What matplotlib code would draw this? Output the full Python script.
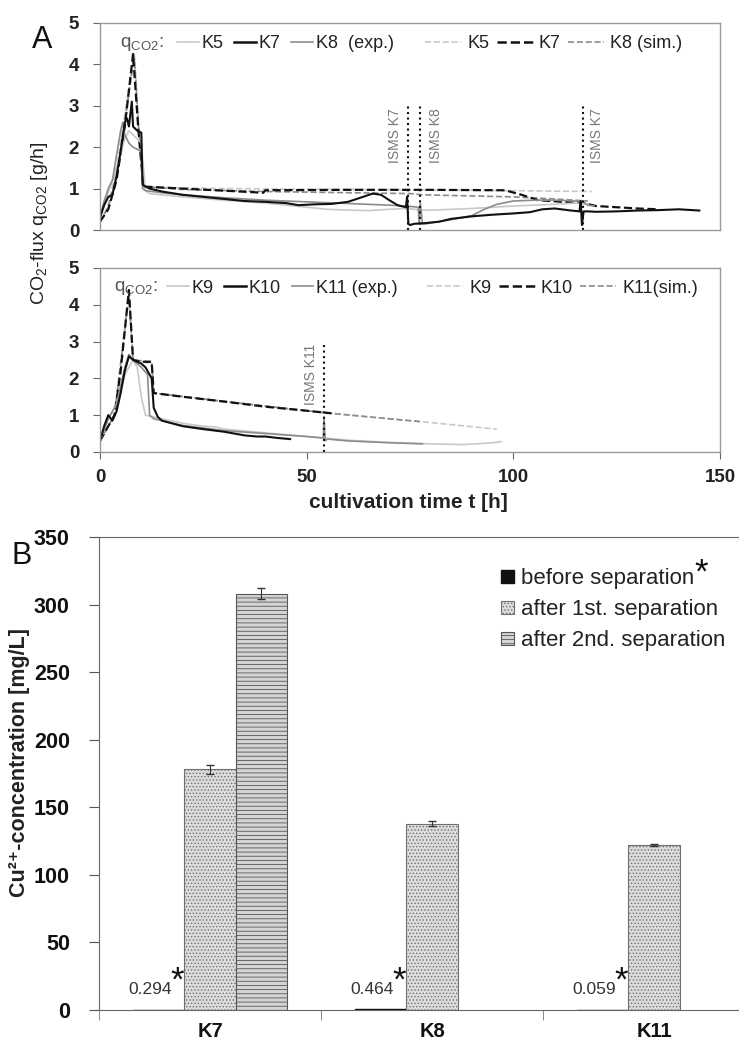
import numpy as np
import matplotlib
matplotlib.use("Agg")
import matplotlib.pyplot as plt
from matplotlib.lines import Line2D

plt.rcParams['font.family'] = ['Liberation Sans', 'DejaVu Sans']
plt.rcParams['mathtext.fontset'] = 'custom'
plt.rcParams['mathtext.rm'] = 'Liberation Sans'
plt.rcParams['mathtext.it'] = 'Liberation Sans:italic'
plt.rcParams['mathtext.bf'] = 'Liberation Sans:bold'
plt.rcParams['hatch.linewidth'] = 0.6

# ---- panel A (top): K5, K7, K8 ----
k7_t = [0, 1, 2, 3, 4, 5, 6, 6.5, 7, 7.7, 8, 9, 10, 10.3, 11, 12, 15, 20, 25, 30, 35, 40, 45, 48, 52, 56, 60,
        63, 66, 68, 70, 72, 74, 74.3, 74.6, 75, 76, 78, 80, 82, 85, 90, 95, 100, 104, 107, 110, 114, 116, 116.3,
        116.6, 117, 118, 120, 125, 130, 135, 140, 145]
k7_q = [0.3, 0.6, 0.8, 0.85, 1.3, 1.9, 2.6, 2.7, 2.5, 3.1, 2.5, 2.4, 2.35, 1.1, 1.05, 1.0, 0.93, 0.85, 0.8, 0.75,
        0.7, 0.68, 0.65, 0.6, 0.62, 0.63, 0.68, 0.78, 0.88, 0.85, 0.72, 0.6, 0.55, 0.8, 0.15, 0.12, 0.15, 0.16,
        0.18, 0.2, 0.27, 0.33, 0.37, 0.4, 0.43, 0.5, 0.52, 0.47, 0.45, 0.7, 0.12, 0.45, 0.45, 0.44, 0.45, 0.47,
        0.48, 0.5, 0.47]
k8_t = [0, 1, 2, 3, 4, 5, 5.5, 6, 7, 8, 9, 10, 10.3, 11, 15, 20, 30, 40, 50, 60, 70, 75, 77, 77.2, 77.5, 78, 79,
        80, 85, 90, 93, 96, 100, 105, 110, 115, 117, 118, 119.5]
k8_q = [0.3, 0.7, 1.0, 1.2, 1.8, 2.4, 2.6, 2.3, 2.1, 2.0, 1.95, 1.9, 1.0, 0.95, 0.9, 0.85, 0.78, 0.72, 0.68, 0.64,
        0.6, 0.57, 0.55, 0.15, 0.65, 0.15, 0.15, 0.17, 0.25, 0.35, 0.5, 0.62, 0.7, 0.72, 0.72, 0.7, 0.68, 0.6, 0.58]
k5_t = [0, 2, 4, 6, 7, 8, 9, 10, 11, 12, 15, 20, 30, 40, 50, 55, 60, 65, 70, 74, 76, 78, 80, 85, 90, 95, 100,
        105, 110, 115, 118]
k5_q = [0.3, 0.9, 1.5, 2.2, 2.4, 2.3, 2.2, 2.1, 0.95, 0.88, 0.85, 0.8, 0.72, 0.65, 0.55, 0.5, 0.48, 0.47, 0.5,
        0.52, 0.5, 0.48, 0.48, 0.5, 0.52, 0.55, 0.58, 0.6, 0.62, 0.65, 0.62]

k5_sim_t = [0, 2, 4, 6, 8.3, 9.5, 10.5, 12, 30, 60, 90, 119]
k5_sim_q = [0.2, 0.6, 1.5, 2.8, 4.25, 2.3, 1.05, 1.03, 1.0, 0.98, 0.96, 0.93]
k7_sim_t = [0, 2, 4, 6, 8, 9.3, 10.5, 20, 30, 39.5, 40, 60, 80, 98, 102, 106, 112, 117, 120, 125, 130, 135]
k7_sim_q = [0.2, 0.5, 1.2, 2.5, 4.25, 2.4, 1.05, 1.0, 0.95, 0.9, 0.96, 0.97, 0.97, 0.96, 0.85, 0.72, 0.68, 0.65,
            0.58, 0.55, 0.52, 0.5]
k8_sim_t = [0, 2, 4, 6, 8.3, 9.5, 10.5, 20, 40, 60, 75, 78, 100, 110, 118]
k8_sim_q = [0.2, 0.55, 1.3, 2.6, 4.2, 2.2, 1.05, 0.98, 0.93, 0.9, 0.88, 0.85, 0.8, 0.75, 0.7]

isms_top_t = [74.4, 77.4, 116.9]
isms_top_lbl = ['ISMS K7', 'ISMS K8', 'ISMS K7']
isms_top_lbl_t = [71.4, 81.3, 120.3]

# ---- panel A (bottom): K9, K10, K11 ----
k10_t = [0, 1, 2, 3, 4, 5, 6, 7, 8, 9, 10, 11, 12.5, 13, 14, 15, 20, 25, 30, 35, 38, 40, 43, 46]
k10_q = [0.3, 0.7, 1.0, 0.85, 1.1, 1.6, 2.2, 2.6, 2.5, 2.45, 2.4, 2.3, 2.0, 1.2, 0.95, 0.85, 0.7, 0.62, 0.55,
         0.45, 0.42, 0.42, 0.38, 0.35]
k11_t = [0, 2, 4, 6, 7, 8, 10, 11.5, 12, 13, 15, 20, 30, 40, 50, 54, 54.2, 54.5, 55, 60, 70, 78]
k11_q = [0.3, 0.9, 1.3, 2.3, 2.65, 2.5, 2.3, 2.1, 1.0, 0.9, 0.85, 0.72, 0.58, 0.5, 0.42, 0.38, 0.95, 0.3, 0.35,
         0.3, 0.25, 0.22]
k9_t = [0, 2, 4, 6, 8, 9, 10, 11, 13, 15, 20, 25, 28, 30, 40, 50, 60, 70, 80, 88, 95, 97]
k9_q = [0.3, 0.9, 1.3, 2.1, 2.5, 2.3, 1.5, 1.0, 0.95, 0.9, 0.78, 0.7, 0.68, 0.62, 0.52, 0.42, 0.32, 0.26, 0.22,
        0.2, 0.25, 0.28]

k10_sim_t = [0, 2, 3.5, 5, 7, 8, 10, 12.5, 13, 20, 30, 40, 50, 56]
k10_sim_q = [0.3, 0.7, 1.0, 2.2, 4.4, 2.5, 2.45, 2.45, 1.6, 1.5, 1.37, 1.23, 1.12, 1.05]
k11_sim_t = [0, 3.5, 7, 8, 12.5, 13, 30, 54, 70, 78]
k11_sim_q = [0.3, 1.0, 4.3, 2.5, 2.45, 1.6, 1.37, 1.07, 0.9, 0.82]
k9_sim_t = [0, 3.5, 7, 8, 12.5, 13, 54, 78, 96]
k9_sim_q = [0.3, 1.0, 4.2, 2.5, 2.4, 1.6, 1.07, 0.82, 0.62]

isms_bot_t = [54.3]
isms_bot_lbl = ['ISMS K11']
isms_bot_lbl_t = [51.0]

# ---- panel B: Cu2+ concentration ----
reactors = ['K7', 'K8', 'K11']
before_sep = [0.294, 0.464, 0.059]
after_1st = [178, 138, 122]
after_1st_err = [3, 2, 1]
after_2nd = [308, np.nan, np.nan]
after_2nd_err = [4, np.nan, np.nan]

light = '#c8c8c8'
mid = '#8c8c8c'
dark = '#111111'
frame = '#9a9a9a'

fig = plt.figure(figsize=(7.39, 10.45), dpi=100)
ax1 = fig.add_axes([0.1353, 0.7799, 0.839, 0.1981])
ax2 = fig.add_axes([0.1353, 0.5675, 0.839, 0.1761])
ax3 = fig.add_axes([0.134, 0.0335, 0.9012, 0.4526])


def style_flux_axis(ax, show_x):
    ax.set_xlim(0, 150)
    ax.set_ylim(0, 5)
    ax.set_yticks(range(6))
    ax.set_xticks([0, 50, 100, 150])
    for s in ax.spines.values():
        s.set_color(frame)
        s.set_linewidth(1.0)
    ax.tick_params(axis='y', colors='#666666', labelcolor='#222222', labelsize=13.5, length=5, pad=10)
    ax.tick_params(axis='x', colors='#666666', labelcolor='#222222', labelsize=13.5, length=5, pad=7)
    for lab in ax.get_yticklabels() + ax.get_xticklabels():
        lab.set_fontweight('bold')
    if not show_x:
        ax.tick_params(axis='x', labelbottom=False, length=0)


def add_flux_legend(ax, names, y, x_q, x_exp, x_sim):
    ax.text(x_q, y, 'q$_{\\mathrm{CO2}}$:', transform=ax.transAxes, fontsize=13.5,
            color='#555555', va='center')
    exp_h = [Line2D([], [], color=light, lw=1.2), Line2D([], [], color=dark, lw=1.8),
             Line2D([], [], color=mid, lw=1.2)]
    sim_h = [Line2D([], [], color=light, lw=1.2, ls='--'), Line2D([], [], color=dark, lw=1.8, ls='--'),
             Line2D([], [], color=mid, lw=1.2, ls='--')]
    leg1 = ax.legend(exp_h, names[0], ncol=3, frameon=False,
                     loc='center left', bbox_to_anchor=(x_exp, y), fontsize=13, handlelength=1.2,
                     handletextpad=0.15, columnspacing=0.6, borderpad=0, borderaxespad=0)
    for t in leg1.get_texts():
        t.set_color('#222222')
    ax.add_artist(leg1)
    leg2 = ax.legend(sim_h, names[1], ncol=3, frameon=False,
                     loc='center left', bbox_to_anchor=(x_sim, y), fontsize=13, handlelength=2.0,
                     handletextpad=0.35, columnspacing=0.4, borderpad=0, borderaxespad=0)
    for t in leg2.get_texts():
        t.set_color('#222222')


# top flux panel
ax1.plot(k5_sim_t, k5_sim_q, color=light, lw=1.2, ls='--')
ax1.plot(k8_sim_t, k8_sim_q, color=mid, lw=1.2, ls='--')
ax1.plot(k7_sim_t, k7_sim_q, color=dark, lw=1.6, ls='--')
ax1.plot(k5_t, k5_q, color=light, lw=1.2)
ax1.plot(k8_t, k8_q, color=mid, lw=1.2)
ax1.plot(k7_t, k7_q, color=dark, lw=1.5)
for t, lbl, lt in zip(isms_top_t, isms_top_lbl, isms_top_lbl_t):
    ax1.plot([t, t], [0, 3], color=dark, ls=':', lw=1.5)
    ax1.text(lt, 2.95, lbl, rotation=90, ha='center', va='top', fontsize=10, color='#777777')
style_flux_axis(ax1, False)
add_flux_legend(ax1, [['K5', 'K7', 'K8  (exp.)'], ['K5', 'K7', 'K8 (sim.)']], 0.90, 0.032, 0.124, 0.524)

# bottom flux panel
ax2.plot(k9_sim_t, k9_sim_q, color=light, lw=1.2, ls='--')
ax2.plot(k11_sim_t, k11_sim_q, color=mid, lw=1.2, ls='--')
ax2.plot(k10_sim_t, k10_sim_q, color=dark, lw=1.6, ls='--')
ax2.plot(k9_t, k9_q, color=light, lw=1.2)
ax2.plot(k11_t, k11_q, color=mid, lw=1.2)
ax2.plot(k10_t, k10_q, color=dark, lw=1.5)
for t, lbl, lt in zip(isms_bot_t, isms_bot_lbl, isms_bot_lbl_t):
    ax2.plot([t, t], [0, 3], color=dark, ls=':', lw=1.5)
    ax2.text(lt, 2.95, lbl, rotation=90, ha='center', va='top', fontsize=10, color='#777777')
style_flux_axis(ax2, True)
add_flux_legend(ax2, [['K9', 'K10', 'K11 (exp.)'], ['K9', 'K10', 'K11(sim.)']], 0.89, 0.022, 0.108, 0.527)

fig.text(0.552, 0.519, 'cultivation time t [h]', fontsize=15, fontweight='bold', color='#222222',
         ha='center', va='center')
fig.text(0.053, 0.786, 'CO$_2$-flux q$_{\\mathrm{CO2}}$ [g/h]', rotation=90, ha='center', va='center',
         fontsize=14, color='#222222')
fig.text(0.057, 0.9617, 'A', fontsize=22, ha='center', va='center', color='#111111')

# bar panel
x = np.arange(len(reactors))
w = 0.23
ax3.bar(x - w, before_sep, w, color='#111111', edgecolor='#111111', label='before separation')
ax3.bar(x, after_1st, w, color='#dcdcdc', edgecolor='#707070', hatch='.....', lw=0.8,
        label='after 1st. separation')
ax3.bar(x + w, after_2nd, w, color='#d4d4d4', edgecolor='#555555', hatch='----', lw=0.8,
        label='after 2nd. separation')
ax3.errorbar(x, after_1st, yerr=after_1st_err, fmt='none', ecolor='#333333', elinewidth=0.8, capsize=3)
ax3.errorbar(x + w, after_2nd, yerr=after_2nd_err, fmt='none', ecolor='#333333', elinewidth=0.8, capsize=3)

for xi, v in zip(x, before_sep):
    t = ax3.text(xi - 0.172, 11.5, f'{v:.3f}', ha='right', va='baseline', fontsize=12.5, color='#333333')
    ax3.annotate('*', xy=(1, 0), xycoords=t, xytext=(-1, 0), textcoords='offset points',
                 ha='left', va='bottom', fontsize=25, color='#111111')

ax3.set_xlim(-0.5, 2.5)
ax3.set_ylim(0, 350)
ax3.set_yticks(range(0, 351, 50))
ax3.set_xticks(x)
ax3.set_xticklabels(reactors)
ax3.set_xticks([-0.5, 0.5, 1.5], minor=True)
ax3.tick_params(axis='x', which='major', length=0, pad=9, labelsize=14.5, labelcolor='#111111')
ax3.tick_params(axis='x', which='minor', length=7, color='#777777')
ax3.tick_params(axis='y', labelsize=15.5, length=7, color='#555555', pad=14, labelcolor='#111111')
for lab in ax3.get_yticklabels() + ax3.get_xticklabels():
    lab.set_fontweight('bold')
ax3.spines['right'].set_visible(False)
for side in ['top', 'left', 'bottom']:
    ax3.spines[side].set_color('#666666')
fig.text(0.027, 0.27, 'Cu²⁺-concentration [mg/L]', rotation=90, fontsize=15.5,
         fontweight='bold', color='#222222', ha='center', va='center')
leg = ax3.legend(loc='center left', bbox_to_anchor=(0.603, 0.846), frameon=False, fontsize=16,
                 handlelength=0.6, handleheight=0.55, handletextpad=0.3, labelspacing=0.45,
                 borderpad=0, borderaxespad=0)
for t in leg.get_texts():
    t.set_color('#222222')
fig.text(0.0298, 0.468, 'B', fontsize=22, ha='center', va='center', color='#111111')

# asterisk after the first legend entry, placed once the legend layout is known
fig.canvas.draw()
bb = leg.get_texts()[0].get_window_extent(fig.canvas.get_renderer())
fig_w, fig_h = fig.bbox.width, fig.bbox.height
fig.text((bb.x1 + 1) / fig_w, bb.y0 / fig_h, '*', ha='left', va='bottom', fontsize=25, color='#111111')

fig.savefig('out.png', dpi=100)
